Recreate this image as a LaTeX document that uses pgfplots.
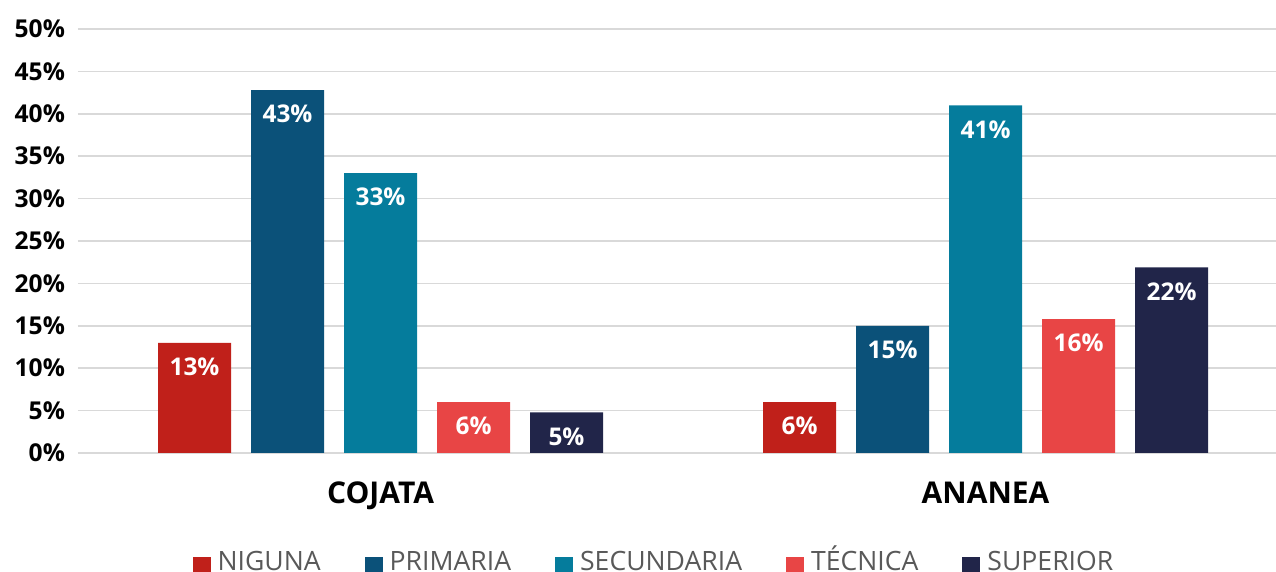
\documentclass[border=0pt]{standalone}
\usepackage{pgfplots}
\pgfplotsset{compat=1.18}
\usepackage{fontspec}
\setmainfont{Open Sans}
\definecolor{cNig}{HTML}{C0201A}
\definecolor{cPri}{HTML}{0B5179}
\definecolor{cSec}{HTML}{057C9C}
\definecolor{cTec}{HTML}{E84545}
\definecolor{cSup}{HTML}{212549}
\definecolor{gridc}{HTML}{D9D9D9}
\definecolor{legtext}{HTML}{595959}
\begin{document}
\begin{tikzpicture}
\begin{axis}[
  scale only axis,
  width=599pt, height=212pt,
  xmin=-0.5, xmax=1.48,
  ymin=0, ymax=50,
  axis line style={draw=none},
  major tick length=0pt,
  xtick={0,1},
  xticklabels={COJATA,ANANEA},
  xticklabel style={font=\fontsize{15}{18}\selectfont\bfseries, yshift=-11pt},
  ytick={0,5,...,50},
  yticklabels={0\%,5\%,10\%,15\%,20\%,25\%,30\%,35\%,40\%,45\%,50\%},
  yticklabel style={font=\fontsize{12.3}{14}\selectfont\bfseries, xshift=-3pt},
  ymajorgrids,
  xmajorgrids=false,
  grid style={draw=gridc, line width=0.8pt},
  ybar,
  bar width=0.1207,
  nodes near coords={\pgfmathprintnumber[fixed,precision=0,assume math mode=true]{\pgfplotspointmeta}\%},
  nodes near coords style={anchor=north, yshift=-4pt, text=white, font=\fontsize{12.2}{14}\selectfont\bfseries},
  legend style={at={(0.4816,-0.2618)}, anchor=center, legend columns=-1, draw=none,
    font=\fontsize{13.3}{16}\selectfont, text=legtext,
    nodes={text height=10pt, text depth=3pt, inner xsep=2pt, inner ysep=1pt},
    /tikz/every even column/.append style={column sep=20pt},
    /tikz/every odd column/.append style={column sep=0pt}},
  legend image code/.code={\fill[#1] (0pt,-5.5pt) rectangle (9pt,3.5pt); \path (10.5pt,0pt);},
]
\addplot[fill=cNig, draw=none, bar shift=-0.3074] coordinates {(0,13) (1,6)};
\addplot[fill=cPri, draw=none, bar shift=-0.1537] coordinates {(0,42.8) (1,15)};
\addplot[fill=cSec, draw=none, bar shift=0] coordinates {(0,33) (1,41)};
\addplot[fill=cTec, draw=none, bar shift=0.1537] coordinates {(0,6) (1,15.8)};
\addplot[fill=cSup, draw=none, bar shift=0.3074] coordinates {(0,4.8) (1,21.9)};
\legend{NIGUNA,PRIMARIA,SECUNDARIA,TÉCNICA,SUPERIOR}
\end{axis}
\pgfresetboundingbox
\path (-39pt,-59.5pt) rectangle (599pt,226.5pt);
\end{tikzpicture}
\end{document}
